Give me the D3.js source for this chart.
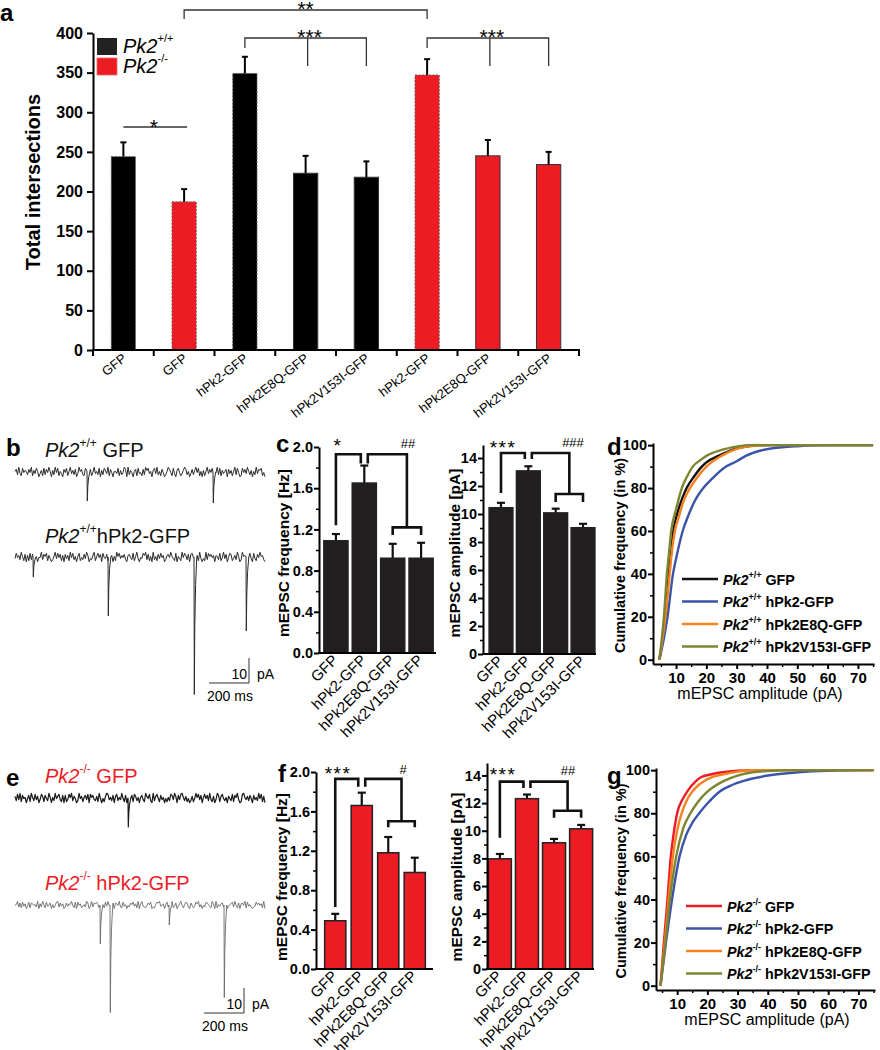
<!DOCTYPE html>
<html><head><meta charset="utf-8">
<script src="https://cdn.jsdelivr.net/npm/d3@7"></script>
<style>body{margin:0;background:#fff} svg{display:block;font-family:Arial,"Liberation Sans",sans-serif}</style>
</head><body><svg id="fig" width="880" height="1050"></svg>
<script>
// ---------------- DATA ----------------
// Panel a
const catsA = ["GFP","GFP","hPk2-GFP","hPk2E8Q-GFP","hPk2V153I-GFP","hPk2-GFP","hPk2E8Q-GFP","hPk2V153I-GFP"];
const genoA = ["wt","ko","wt","wt","wt","ko","ko","ko"];
const intersections = [244,187,349,223,218,347,245,234];
const intersectionsErr = [18,16,21,22,20,20,20,16];
const ticksA = [0,50,100,150,200,250,300,350,400];

// Panels c / f
const catsC = ["GFP","hPk2-GFP","hPk2E8Q-GFP","hPk2V153I-GFP"];
const freqWT = [1.09,1.65,0.92,0.92];
const freqWTErr = [0.065,0.17,0.14,0.15];
const ampWT = [10.45,13.08,10.08,9.02];
const ampWTErr = [0.35,0.33,0.3,0.28];
const freqKO = [0.49,1.66,1.18,0.98];
const freqKOErr = [0.07,0.13,0.16,0.15];
const ampKO = [7.97,12.32,9.13,10.14];
const ampKOErr = [0.35,0.3,0.28,0.28];
const freqTicks = [0,0.4,0.8,1.2,1.6,2.0];
const ampTicks = [0,2,4,6,8,10,12,14];

// Panels d / g (cumulative distributions: [amplitude pA, cumulative %])
const seriesCum = ["GFP","hPk2-GFP","hPk2E8Q-GFP","hPk2V153I-GFP"];
const cumWT_GFP   = [[4.5,0],[6.5,20],[7.6,40],[8.4,50],[9.1,60],[10,66],[12,75],[13.5,80],[16,85.5],[18.5,90],[20,92],[24,95],[30,98.5],[35,99.7],[40,100],[75,100]];
const cumWT_hPk2  = [[4.5,0],[6,10],[7.2,20],[9,40],[10,47],[12.2,60],[14,67],[16,73.5],[19,80],[22,84.5],[26.5,90],[30,92.5],[33,95],[38,97.5],[45,99],[50,99.5],[60,100],[75,100]];
const cumWT_E8Q   = [[4.5,0],[6.5,20],[7.9,40],[8.6,50],[9.6,60],[11,67],[12.5,74],[14.6,80],[17,85],[20,90],[25,95],[30,98.3],[35,99.6],[40,100],[75,100]];
const cumWT_V153I = [[4.5,0],[6,20],[7,40],[7.7,50],[8.4,60],[10,70],[11.9,80],[13.5,85],[15.5,90],[18,93],[20,95],[25,97.8],[30,99.3],[34,100],[75,100]];
const cumKO_GFP   = [[4.5,0],[5.6,20],[6.8,40],[7.9,60],[9,72],[10,80],[12,87],[13.3,90],[16.3,95],[18,96.8],[21,98],[25,99],[30,99.7],[35,100],[75,100]];
const cumKO_hPk2  = [[4.5,0],[6.3,20],[8.3,40],[10.8,60],[13,70],[15,75.5],[17.3,80],[20,84.5],[24,90],[28,93],[32,95],[40,97.5],[50,99],[60,99.7],[75,100]];
const cumKO_E8Q   = [[4.5,0],[5.9,20],[7.2,40],[8.6,60],[10,72],[11.5,80],[13,85.5],[15,90],[17,93],[19,95],[22,97],[25,98],[30,99.3],[35,100],[75,100]];
const cumKO_V153I = [[4.5,0],[6.1,20],[7.6,40],[9.7,60],[12,73],[14.4,80],[17,85.5],[20,90],[25.5,95],[30,97.5],[35,99],[40,99.6],[50,100],[75,100]];
const cumXTicks = [10,20,30,40,50,60,70];
const cumYTicks = [0,20,40,60,80,100];

// Example traces: typed noise digits (0-9) and events [time ms, peak pA]
const noiseB1 = "57293184652749163850361827495062948153074815936270395721860471493528062863917405538162497092640571834172968350683925174025974183068413697250372694815061593748204928163570736159284018473952605293768140";
const noiseB2 = "38462951706182739504492758163025938471607361948250581427396032691584708437192605195836472067428159304386927150925173846026749531805319486270784526193031928574606528149370487136295029567148308317495620";
const noiseE1 = "62839174504719528360386174295052946831707138592640294615738085732619404169835270682539417034971862505731964820926841735041528739607389526140261495837058472931603971684250642817593018953627407352948160";
const noiseE2 = "45927183603817645290629518347051489273602736594180846135297039276851405183946270764921835042758361906932147580215879346058264913703694158720741386925042875319609153672840356829417067491835202385746190";
const eventsB1 = [[360,11.6],[990,12.4]];
const eventsB2 = [[90,8],[465,23.6],[895,55],[1155,29.6]];
const eventsE1 = [[565,11.6]];
const eventsE2 = [[425,15.6],[475,43],[770,8],[1045,37]];

// ---------------- DRAWING ----------------
const RED = "#ed1c24";
const svg = d3.select("#fig");

function styleAxis(sel, fs, bold, sw) {
  sel.attr("font-family", null).attr("font-size", null);
  sel.select(".domain").attr("stroke", "#000").attr("stroke-width", sw);
  sel.selectAll(".tick line").attr("stroke", "#000").attr("stroke-width", sw);
  sel.selectAll(".tick text").attr("font-size", fs).attr("font-weight", bold ? "bold" : "normal").attr("fill", "#000");
}
function panelLabel(s, x, y) {
  svg.append("text").attr("x", x).attr("y", y).attr("font-size", 24).attr("font-weight", "bold").text(s);
}
function rotLabel(g, s, cx, cy, fs, bold) {
  g.append("text").attr("transform", `translate(${cx + fs * 0.36},${cy}) rotate(-90)`)
    .attr("text-anchor", "middle").attr("font-size", fs).attr("font-weight", bold ? "bold" : "normal").text(s);
}
function sigText(g, s, x, y, fs, ls) {
  g.append("text").attr("x", x).attr("y", y).attr("text-anchor", "middle").attr("font-size", fs)
    .attr("letter-spacing", ls || 0).text(s);
}

// ===== Panel a =====
(function () {
  const g = svg.append("g");
  const x = d3.scaleBand().domain(d3.range(catsA.length)).range([93, 579]).paddingInner(0.6).paddingOuter(0.3);
  const y = d3.scaleLinear().domain([0, 400]).range([350, 33]);
  const cx = i => x(i) + x.bandwidth() / 2;
  const dashed = new Set([0, 1, 2, 5]);
  g.selectAll("rect.bar").data(intersections).join("rect")
    .attr("x", (d, i) => x(i)).attr("y", d => y(d)).attr("width", x.bandwidth()).attr("height", d => y(0) - y(d))
    .attr("fill", (d, i) => genoA[i] === "wt" ? "#000" : RED)
    .attr("stroke", (d, i) => dashed.has(i) ? "#666" : "#333").attr("stroke-width", 1)
    .attr("stroke-dasharray", (d, i) => dashed.has(i) ? "2,1.5" : null);
  intersections.forEach((v, i) => {
    const top = y(v + intersectionsErr[i]);
    g.append("line").attr("x1", cx(i)).attr("x2", cx(i)).attr("y1", y(v)).attr("y2", top).attr("stroke", "#000").attr("stroke-width", 2);
    g.append("line").attr("x1", cx(i) - 3).attr("x2", cx(i) + 3).attr("y1", top).attr("y2", top).attr("stroke", "#000").attr("stroke-width", 2);
  });
  g.append("g").attr("transform", "translate(93,0)")
    .call(d3.axisLeft(y).tickValues(ticksA).tickSize(6).tickSizeOuter(0).tickPadding(4))
    .call(s => styleAxis(s, 16, true, 2));
  g.append("line").attr("x1", 92).attr("x2", 580).attr("y1", 350).attr("y2", 350).attr("stroke", "#000").attr("stroke-width", 2);
  const step = x.step();
  [x(0) - step * 0.3].concat(d3.range(catsA.length).map(i => cx(i) + step / 2)).forEach(t => {
    g.append("line").attr("x1", t).attr("x2", t).attr("y1", 350).attr("y2", 356).attr("stroke", "#000").attr("stroke-width", 2);
  });
  catsA.forEach((c, i) => {
    g.append("text").attr("transform", `translate(${cx(i) + 4},${360}) rotate(-38)`)
      .attr("text-anchor", "end").attr("font-size", 13).text(c);
  });
  rotLabel(g, "Total intersections", 33, 182, 20, true);
  g.append("rect").attr("x", 97).attr("y", 38).attr("width", 20).attr("height", 17).attr("fill", "#222");
  g.append("rect").attr("x", 97).attr("y", 58).attr("width", 20).attr("height", 17).attr("fill", RED).attr("stroke", "#e66").attr("stroke-width", 0.8);
  [["+/+", 53], ["-/-", 73]].forEach(([sup, yy]) => {
    const t = g.append("text").attr("x", 123).attr("y", yy).attr("font-size", 20);
    t.append("tspan").attr("font-style", "italic").text("Pk2");
    t.append("tspan").attr("font-size", 11).attr("dy", -11).text(sup);
  });
  const path = (d) => g.append("path").attr("d", d).attr("fill", "none").attr("stroke", "#333").attr("stroke-width", 1.3);
  path(`M${cx(0)},127H${cx(1) + 3}`);
  sigText(g, "*", (cx(0) + cx(1)) / 2, 134, 21);
  path(`M${cx(1)},19V10H${cx(5)}V19`);
  sigText(g, "**", (cx(1) + cx(5)) / 2, 16, 21);
  path(`M${cx(2)},48V38H${cx(4)}V66M${cx(3) + 2},38V66`);
  sigText(g, "***", cx(3) + 4, 44, 21);
  path(`M${cx(5)},48V38H${cx(7)}V66M${cx(6) + 2},38V66`);
  sigText(g, "***", cx(6) + 4, 44, 21);
})();
panelLabel("a", 0, 21);

// ===== Bar panels c / f =====
function barPanel(o) {
  const g = svg.append("g");
  const y = d3.scaleLinear().domain(o.yDomain).range(o.yRange);
  const x = d3.scaleBand().domain(d3.range(o.vals.length)).range(o.xRange).paddingInner(o.pi).paddingOuter(o.po);
  const cx = i => x(i) + x.bandwidth() / 2;
  o.vals.forEach((v, i) => {
    const top = y(v + o.errs[i]);
    g.append("line").attr("x1", cx(i)).attr("x2", cx(i)).attr("y1", y(v)).attr("y2", top).attr("stroke", "#111").attr("stroke-width", 2.2);
    g.append("line").attr("x1", cx(i) - 4).attr("x2", cx(i) + 4).attr("y1", top).attr("y2", top).attr("stroke", "#111").attr("stroke-width", 2.2);
  });
  g.selectAll("rect.bar").data(o.vals).join("rect")
    .attr("x", (d, i) => x(i)).attr("y", d => y(d)).attr("width", x.bandwidth()).attr("height", d => y(0) - y(d))
    .attr("fill", o.fill).attr("stroke", "#222").attr("stroke-width", 1.5);
  g.append("g").attr("transform", `translate(${o.axisX},0)`)
    .call(d3.axisLeft(y).tickValues(o.ticks).tickFormat(o.fmt).tickSize(5).tickSizeOuter(0).tickPadding(1))
    .call(s => styleAxis(s, 14.5, true, 2));
  g.append("g").attr("transform", `translate(${o.axisX},0)`)
    .call(d3.axisLeft(y).tickValues(o.minor).tickFormat("").tickSize(3).tickSizeOuter(0))
    .call(s => { styleAxis(s, 14.5, true, 1.5); s.select(".domain").remove(); });
  g.append("line").attr("x1", o.axisX - 1).attr("x2", o.xEnd).attr("y1", y(0)).attr("y2", y(0)).attr("stroke", "#000").attr("stroke-width", 2.2);
  catsC.forEach((c, i) => {
    g.append("text").attr("transform", `translate(${cx(i) + 3},${y(0) + 8}) rotate(-45)`)
      .attr("text-anchor", "end").attr("font-size", 15).text(c);
  });
  rotLabel(g, o.yLabel, o.yLabelPos[0], o.yLabelPos[1], 15.5, true);
  const b = o.br;
  const p = `M${cx(0)},${y(b.leg0)}V${y(b.top)}H${cx(1) - 3.5}V${y(b.mid)}` +
            `M${cx(1) + 3.5},${y(b.mid)}V${y(b.top)}H${(cx(2) + cx(3)) / 2}V${y(b.low)}` +
            `M${cx(2)},${y(b.lowLeg)}V${y(b.low)}H${cx(3)}V${y(b.lowLeg)}`;
  g.append("path").attr("d", p).attr("fill", "none").attr("stroke", "#111").attr("stroke-width", 2.6);
  sigText(g, o.s1, o.s1Pos[0], o.s1Pos[1], 19, 1.5);
  sigText(g, o.s2, o.s2Pos[0], o.s2Pos[1], 13, 0);
}

barPanel({ vals: freqWT, errs: freqWTErr, yDomain: [0, 2], yRange: [653, 447], xRange: [321, 436], pi: 0.15, po: 0.1,
  axisX: 319, xEnd: 436, ticks: freqTicks, minor: [0.2, 0.6, 1.0, 1.4, 1.8], fmt: d3.format(".1f"), fill: "#231f20",
  yLabel: "mEPSC frequency [Hz]", yLabelPos: [283, 553],
  br: { top: 1.93, leg0: 1.24, mid: 1.84, low: 1.22, lowLeg: 1.145 }, s1: "*", s1Pos: [338, 452], s2: "##", s2Pos: [408, 448] });
barPanel({ vals: ampWT, errs: ampWTErr, yDomain: [0, 14.93], yRange: [654, 445], xRange: [485, 599], pi: 0.13, po: 0.15,
  axisX: 483, xEnd: 596, ticks: ampTicks, minor: [1, 3, 5, 7, 9, 11, 13], fmt: d3.format("d"), fill: "#231f20",
  yLabel: "mEPSC amplitude [pA]", yLabelPos: [454, 553],
  br: { top: 14.36, leg0: 11.5, mid: 13.93, low: 11.43, lowLeg: 10.86 }, s1: "***", s1Pos: [503, 454], s2: "###", s2Pos: [573, 447] });
barPanel({ vals: freqKO, errs: freqKOErr, yDomain: [0, 2], yRange: [969, 772], xRange: [322, 428], pi: 0.2, po: 0.1,
  axisX: 316, xEnd: 433, ticks: freqTicks, minor: [0.2, 0.6, 1.0, 1.4, 1.8], fmt: d3.format(".1f"), fill: RED,
  yLabel: "mEPSC frequency [Hz]", yLabelPos: [281, 877],
  br: { top: 1.93, leg0: 0.63, mid: 1.85, low: 1.5, lowLeg: 1.44 }, s1: "***", s1Pos: [338, 780], s2: "#", s2Pos: [403, 774] });
barPanel({ vals: ampKO, errs: ampKOErr, yDomain: [0, 14.9], yRange: [969, 763], xRange: [487, 594], pi: 0.15, po: 0.05,
  axisX: 487, xEnd: 594, ticks: ampTicks, minor: [1, 3, 5, 7, 9, 11, 13], fmt: d3.format("d"), fill: RED,
  yLabel: "mEPSC amplitude [pA]", yLabelPos: [456, 877],
  br: { top: 13.55, leg0: 9.5, mid: 13.1, low: 11.45, lowLeg: 10.94 }, s1: "***", s1Pos: [503, 781], s2: "##", s2Pos: [568, 775] });
panelLabel("c", 276, 452);
panelLabel("f", 278, 782);

// ===== Cumulative panels d / g =====
function cumPanel(o) {
  const g = svg.append("g");
  const x = d3.scaleLinear().domain(o.xDomain).range(o.xRange);
  const y = d3.scaleLinear().domain([-2, 101]).range(o.yRange);
  g.append("g").attr("transform", `translate(0,${o.yRange[0]})`)
    .call(d3.axisBottom(x).tickValues(cumXTicks).tickSize(5).tickSizeOuter(0).tickPadding(3))
    .call(s => styleAxis(s, 15, true, 2));
  g.append("g").attr("transform", `translate(0,${o.yRange[0]})`)
    .call(d3.axisBottom(x).tickValues([5, 15, 25, 35, 45, 55, 65, 75]).tickFormat("").tickSize(3).tickSizeOuter(0))
    .call(s => { styleAxis(s, 15, true, 1.5); s.select(".domain").remove(); });
  g.append("g").attr("transform", `translate(${o.xRange[0]},0)`)
    .call(d3.axisLeft(y).tickValues(cumYTicks).tickSize(5).tickSizeOuter(0).tickPadding(1))
    .call(s => styleAxis(s, 14.5, true, 2));
  g.append("g").attr("transform", `translate(${o.xRange[0]},0)`)
    .call(d3.axisLeft(y).tickValues([10, 30, 50, 70, 90]).tickFormat("").tickSize(3).tickSizeOuter(0))
    .call(s => { styleAxis(s, 15, true, 1.5); s.select(".domain").remove(); });
  const line = d3.line().x(d => x(d[0])).y(d => y(d[1])).curve(d3.curveMonotoneX);
  o.curves.forEach((c, i) => {
    g.append("path").datum(c).attr("d", line).attr("fill", "none").attr("stroke", o.colors[i]).attr("stroke-width", 2.4);
  });
  seriesCum.forEach((s, i) => {
    const yy = o.legY + i * 22.5;
    g.append("line").attr("x1", o.legX).attr("x2", o.legX + 36).attr("y1", yy).attr("y2", yy).attr("stroke", o.colors[i]).attr("stroke-width", 2.6);
    const t = g.append("text").attr("x", o.legX + 41).attr("y", yy + 5.5).attr("font-size", 14.3).attr("font-weight", "bold");
    t.append("tspan").attr("font-style", "italic").text("Pk2");
    t.append("tspan").attr("font-size", 9).attr("dy", -7).text(o.sup);
    t.append("tspan").attr("dy", 7).text(" " + s);
  });
  rotLabel(g, "Cumulative frequency (in %)", o.yLabX, (o.yRange[0] + o.yRange[1]) / 2 + 2, 14.5, true);
  g.append("text").attr("x", o.xLab[0]).attr("y", o.xLab[1]).attr("text-anchor", "middle").attr("font-size", 16).text("mEPSC amplitude (pA)");
}
cumPanel({ xDomain: [2.4, 75.3], xRange: [653, 874], yRange: [664, 443], sup: "+/+",
  curves: [cumWT_GFP, cumWT_hPk2, cumWT_E8Q, cumWT_V153I],
  colors: ["#111", "#3a55a8", "#f5821f", "#7d8530"], legX: 682, legY: 579, yLabX: 620, xLab: [760, 699] });
cumPanel({ xDomain: [3, 75.5], xRange: [656, 875], yRange: [990, 768], sup: "-/-",
  curves: [cumKO_GFP, cumKO_hPk2, cumKO_E8Q, cumKO_V153I],
  colors: [RED, "#3a55a8", "#f5821f", "#7d8530"], legX: 686, legY: 906, yLabX: 621, xLab: [767, 1025] });
panelLabel("d", 607, 455);
panelLabel("g", 607, 784);

// ===== Traces b / e =====
const tx = d3.scaleLinear().domain([0, 1250]).range([15, 265]);
const eventShape = [[0, 0], [1.5, 1], [4, 0.5], [8, 0.2], [14, 0]];
function trace(noise, events, base, amp, color, sw) {
  const n = noise.length;
  const dt = 1250 / (n - 1);
  let pts = [];
  for (let i = 0; i < n; i++) {
    const t = i * dt;
    if (events.some(([te]) => t >= te && t <= te + 14)) continue;
    pts.push([t, (+noise[i] - 4.5) * amp]);
  }
  events.forEach(([te, a]) => eventShape.forEach(([dtt, f]) => pts.push([te + dtt, -a * f])));
  pts.sort((p, q) => p[0] - q[0]);
  const y = d3.scaleLinear().domain([-10, 0]).range([base + 25, base]);
  svg.append("path").datum(pts).attr("d", d3.line().x(d => tx(d[0])).y(d => y(d[1])))
    .attr("fill", "none").attr("stroke", color).attr("stroke-width", sw).attr("stroke-linejoin", "round");
}
trace(noiseB1, eventsB1, 472, 0.42, "#2a2a2a", 1);
trace(noiseB2, eventsB2, 557, 0.42, "#2a2a2a", 1);
trace(noiseE1, eventsE1, 798, 0.42, "#1a1a1a", 1.2);
trace(noiseE2, eventsE2, 905, 0.32, "#6a6a6a", 0.9);

function traceLabel(x, y, sup, rest, color) {
  const t = svg.append("text").attr("x", x).attr("y", y).attr("font-size", 20).attr("fill", color);
  t.append("tspan").attr("font-style", "italic").text("Pk2");
  t.append("tspan").attr("font-size", 12).attr("dy", -10).text(sup);
  t.append("tspan").attr("dy", 10).text(rest);
}
traceLabel(45, 457, "+/+", " GFP", "#111");
traceLabel(45, 543, "+/+", "hPk2-GFP", "#111");
traceLabel(45, 783, "-/-", " GFP", RED);
traceLabel(45, 890, "-/-", " hPk2-GFP", RED);

function scaleBar(x0, yb) {
  const g = svg.append("g");
  g.append("path").attr("d", `M${x0},${yb}H${x0 + tx(200) - tx(0)}V${yb - 25}`).attr("fill", "none").attr("stroke", "#333").attr("stroke-width", 1);
  g.append("text").attr("x", x0 + 38).attr("y", yb - 4).attr("text-anchor", "end").attr("font-size", 14).text("10");
  g.append("text").attr("x", x0 + 48).attr("y", yb - 4).attr("font-size", 14).text("pA");
  g.append("text").attr("x", x0 - 2).attr("y", yb + 18).attr("font-size", 14).text("200 ms");
}
scaleBar(209, 683);
scaleBar(204, 1013);
panelLabel("b", 6, 456);
panelLabel("e", 6, 786);
</script></body></html>
